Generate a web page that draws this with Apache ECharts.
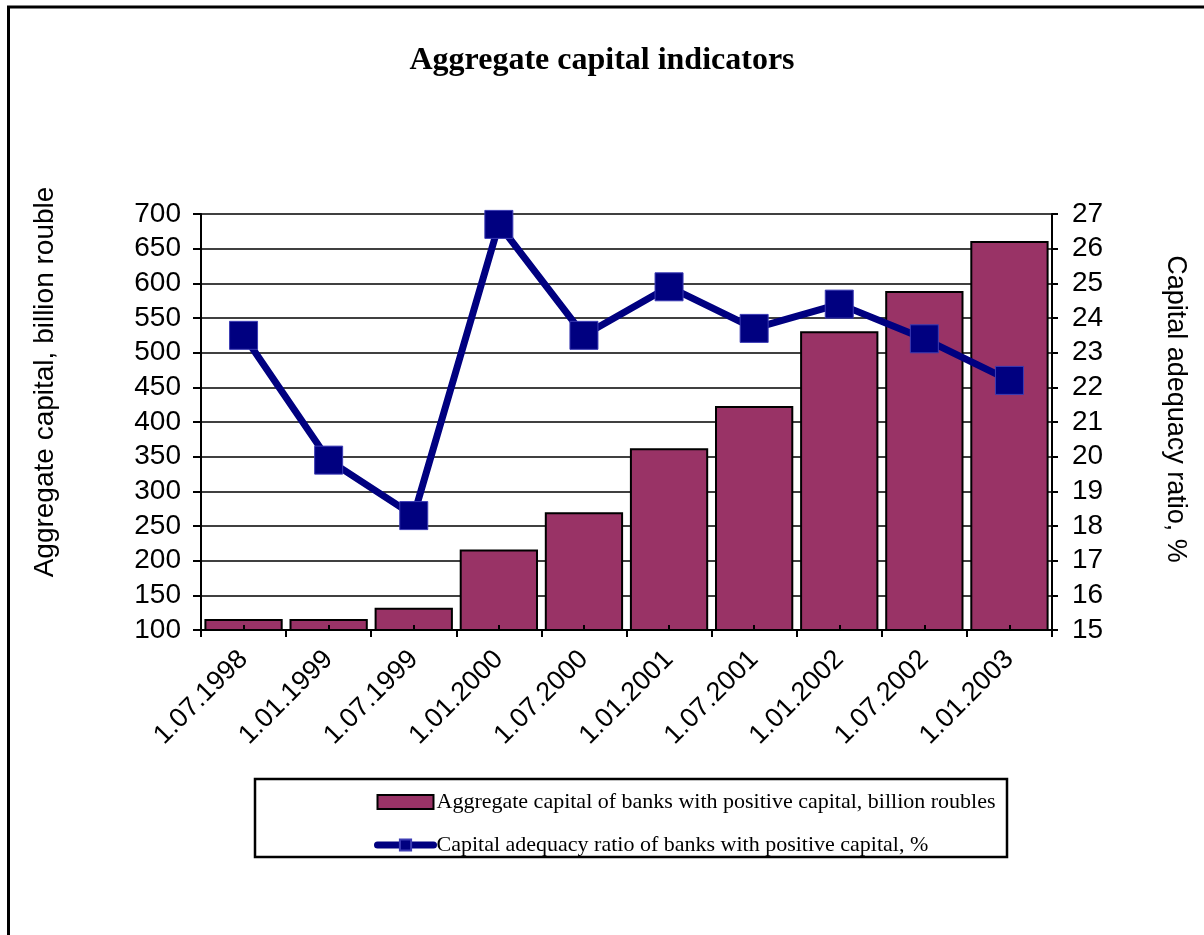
<!DOCTYPE html>
<html>
<head>
<meta charset="utf-8">
<title>Aggregate capital indicators</title>
<script src="https://cdn.jsdelivr.net/npm/echarts@6/dist/echarts.min.js"></script>
<style>
  html, body { margin: 0; padding: 0; background: #fff; }
  #chart { width: 1204px; height: 935px; }
</style>
</head>
<body>
<div id="chart"></div>
<script>
// Reporting dates
const categories = ['1.07.1998', '1.01.1999', '1.07.1999', '1.01.2000', '1.07.2000',
                    '1.01.2001', '1.07.2001', '1.01.2002', '1.07.2002', '1.01.2003'];
// Aggregate capital of banks with positive capital, billion roubles
const capitalValues = [116, 116, 132, 216, 270, 362, 423, 531, 589, 661];
// Capital adequacy ratio of banks with positive capital, %
const adequacyValues = [23.5, 19.9, 18.3, 26.7, 23.5, 24.9, 23.7, 24.4, 23.4, 22.2];

const capitalName = 'Aggregate capital of banks with positive capital, billion roubles';
const adequacyName = 'Capital adequacy ratio of banks with positive capital, %';

const sans = '"Liberation Sans", Arial, sans-serif';
const serif = '"Liberation Serif", "Times New Roman", serif';

const chart = echarts.init(document.getElementById('chart'), null, { renderer: 'canvas' });

chart.setOption({
  backgroundColor: '#fff',
  animation: false,
  title: {
    text: 'Aggregate capital indicators',
    left: 'center',
    top: 40,
    textStyle: { fontFamily: serif, fontWeight: 'bold', fontSize: 32, color: '#000' }
  },
  graphic: [
    {
      type: 'rect',
      shape: { x: 8.5, y: 7, width: 1300, height: 1000 },
      style: { fill: 'none', stroke: '#000', lineWidth: 3 },
      silent: true
    },
    {
      type: 'rect',
      shape: { x: 255, y: 779, width: 752, height: 78 },
      style: { fill: 'none', stroke: '#000', lineWidth: 2.5 },
      silent: true
    }
  ],
  legend: {
    orient: 'vertical',
    left: 369,
    top: 786,
    itemWidth: 56,
    itemHeight: 14,
    itemGap: 21,
    textStyle: { fontFamily: serif, fontSize: 22, color: '#000', padding: [0, 0, 0, -2] },
    data: [
      { name: capitalName, icon: 'rect', itemStyle: { borderColor: '#000', borderWidth: 2 } },
      { name: adequacyName, lineStyle: { width: 7, cap: 'round', color: '#000080' } }
    ]
  },
  grid: { left: 201, right: 152, top: 214, bottom: 305 },
  xAxis: [
    {
      type: 'category',
      data: categories,
      boundaryGap: true,
      axisLine: { lineStyle: { color: '#000', width: 2 } },
      axisTick: { show: true, interval: 0, length: 7, lineStyle: { color: '#000', width: 2 } },
      axisLabel: {
        interval: 0, rotate: 45, margin: 25,
        fontFamily: sans, fontSize: 27, color: '#000'
      }
    },
    {
      // small centre ticks inside each category
      type: 'category',
      data: categories,
      position: 'bottom',
      z: 5,
      axisLine: { show: false },
      axisLabel: { show: false },
      axisTick: { show: true, inside: true, alignWithLabel: true, interval: 0, length: 5,
                  lineStyle: { color: '#000', width: 2 } },
      splitLine: { show: false }
    }
  ],
  yAxis: [
    {
      type: 'value',
      min: 100, max: 700, interval: 50,
      name: 'Aggregate capital, billion rouble',
      nameLocation: 'middle',
      nameRotate: 90,
      nameGap: 142,
      nameTextStyle: { fontFamily: sans, fontSize: 28, color: '#000', padding: [0, 0, 0, 80] },
      axisLine: { show: true, lineStyle: { color: '#000', width: 2 } },
      axisTick: { show: true, length: 8, lineStyle: { color: '#000', width: 2 } },
      axisLabel: { margin: 20, fontFamily: sans, fontSize: 28, color: '#000' },
      splitLine: { show: true, lineStyle: { color: '#000', width: 1.5 } }
    },
    {
      type: 'value',
      min: 15, max: 27, interval: 1,
      position: 'right',
      name: 'Capital adequacy ratio, %',
      nameLocation: 'middle',
      nameRotate: -90,
      nameGap: 110,
      nameTextStyle: { fontFamily: sans, fontSize: 27, color: '#000', padding: [0, 26, 0, 0] },
      axisLine: { show: true, lineStyle: { color: '#000', width: 2 } },
      axisTick: { show: true, length: 6, lineStyle: { color: '#000', width: 2 } },
      axisLabel: { margin: 20, fontFamily: sans, fontSize: 28, color: '#000' },
      splitLine: { show: false }
    }
  ],
  series: [
    {
      name: capitalName,
      type: 'bar',
      xAxisIndex: 0,
      yAxisIndex: 0,
      data: capitalValues,
      barCategoryGap: '8%',
      itemStyle: { color: '#993366', borderColor: '#000', borderWidth: 2 }
    },
    {
      name: adequacyName,
      type: 'line',
      xAxisIndex: 0,
      yAxisIndex: 1,
      data: adequacyValues,
      z: 6,
      symbol: 'rect',
      symbolSize: 28,
      lineStyle: { color: '#000080', width: 7 },
      itemStyle: { color: '#000080', borderColor: '#3c3cb4', borderWidth: 1 }
    }
  ]
});
</script>
</body>
</html>
